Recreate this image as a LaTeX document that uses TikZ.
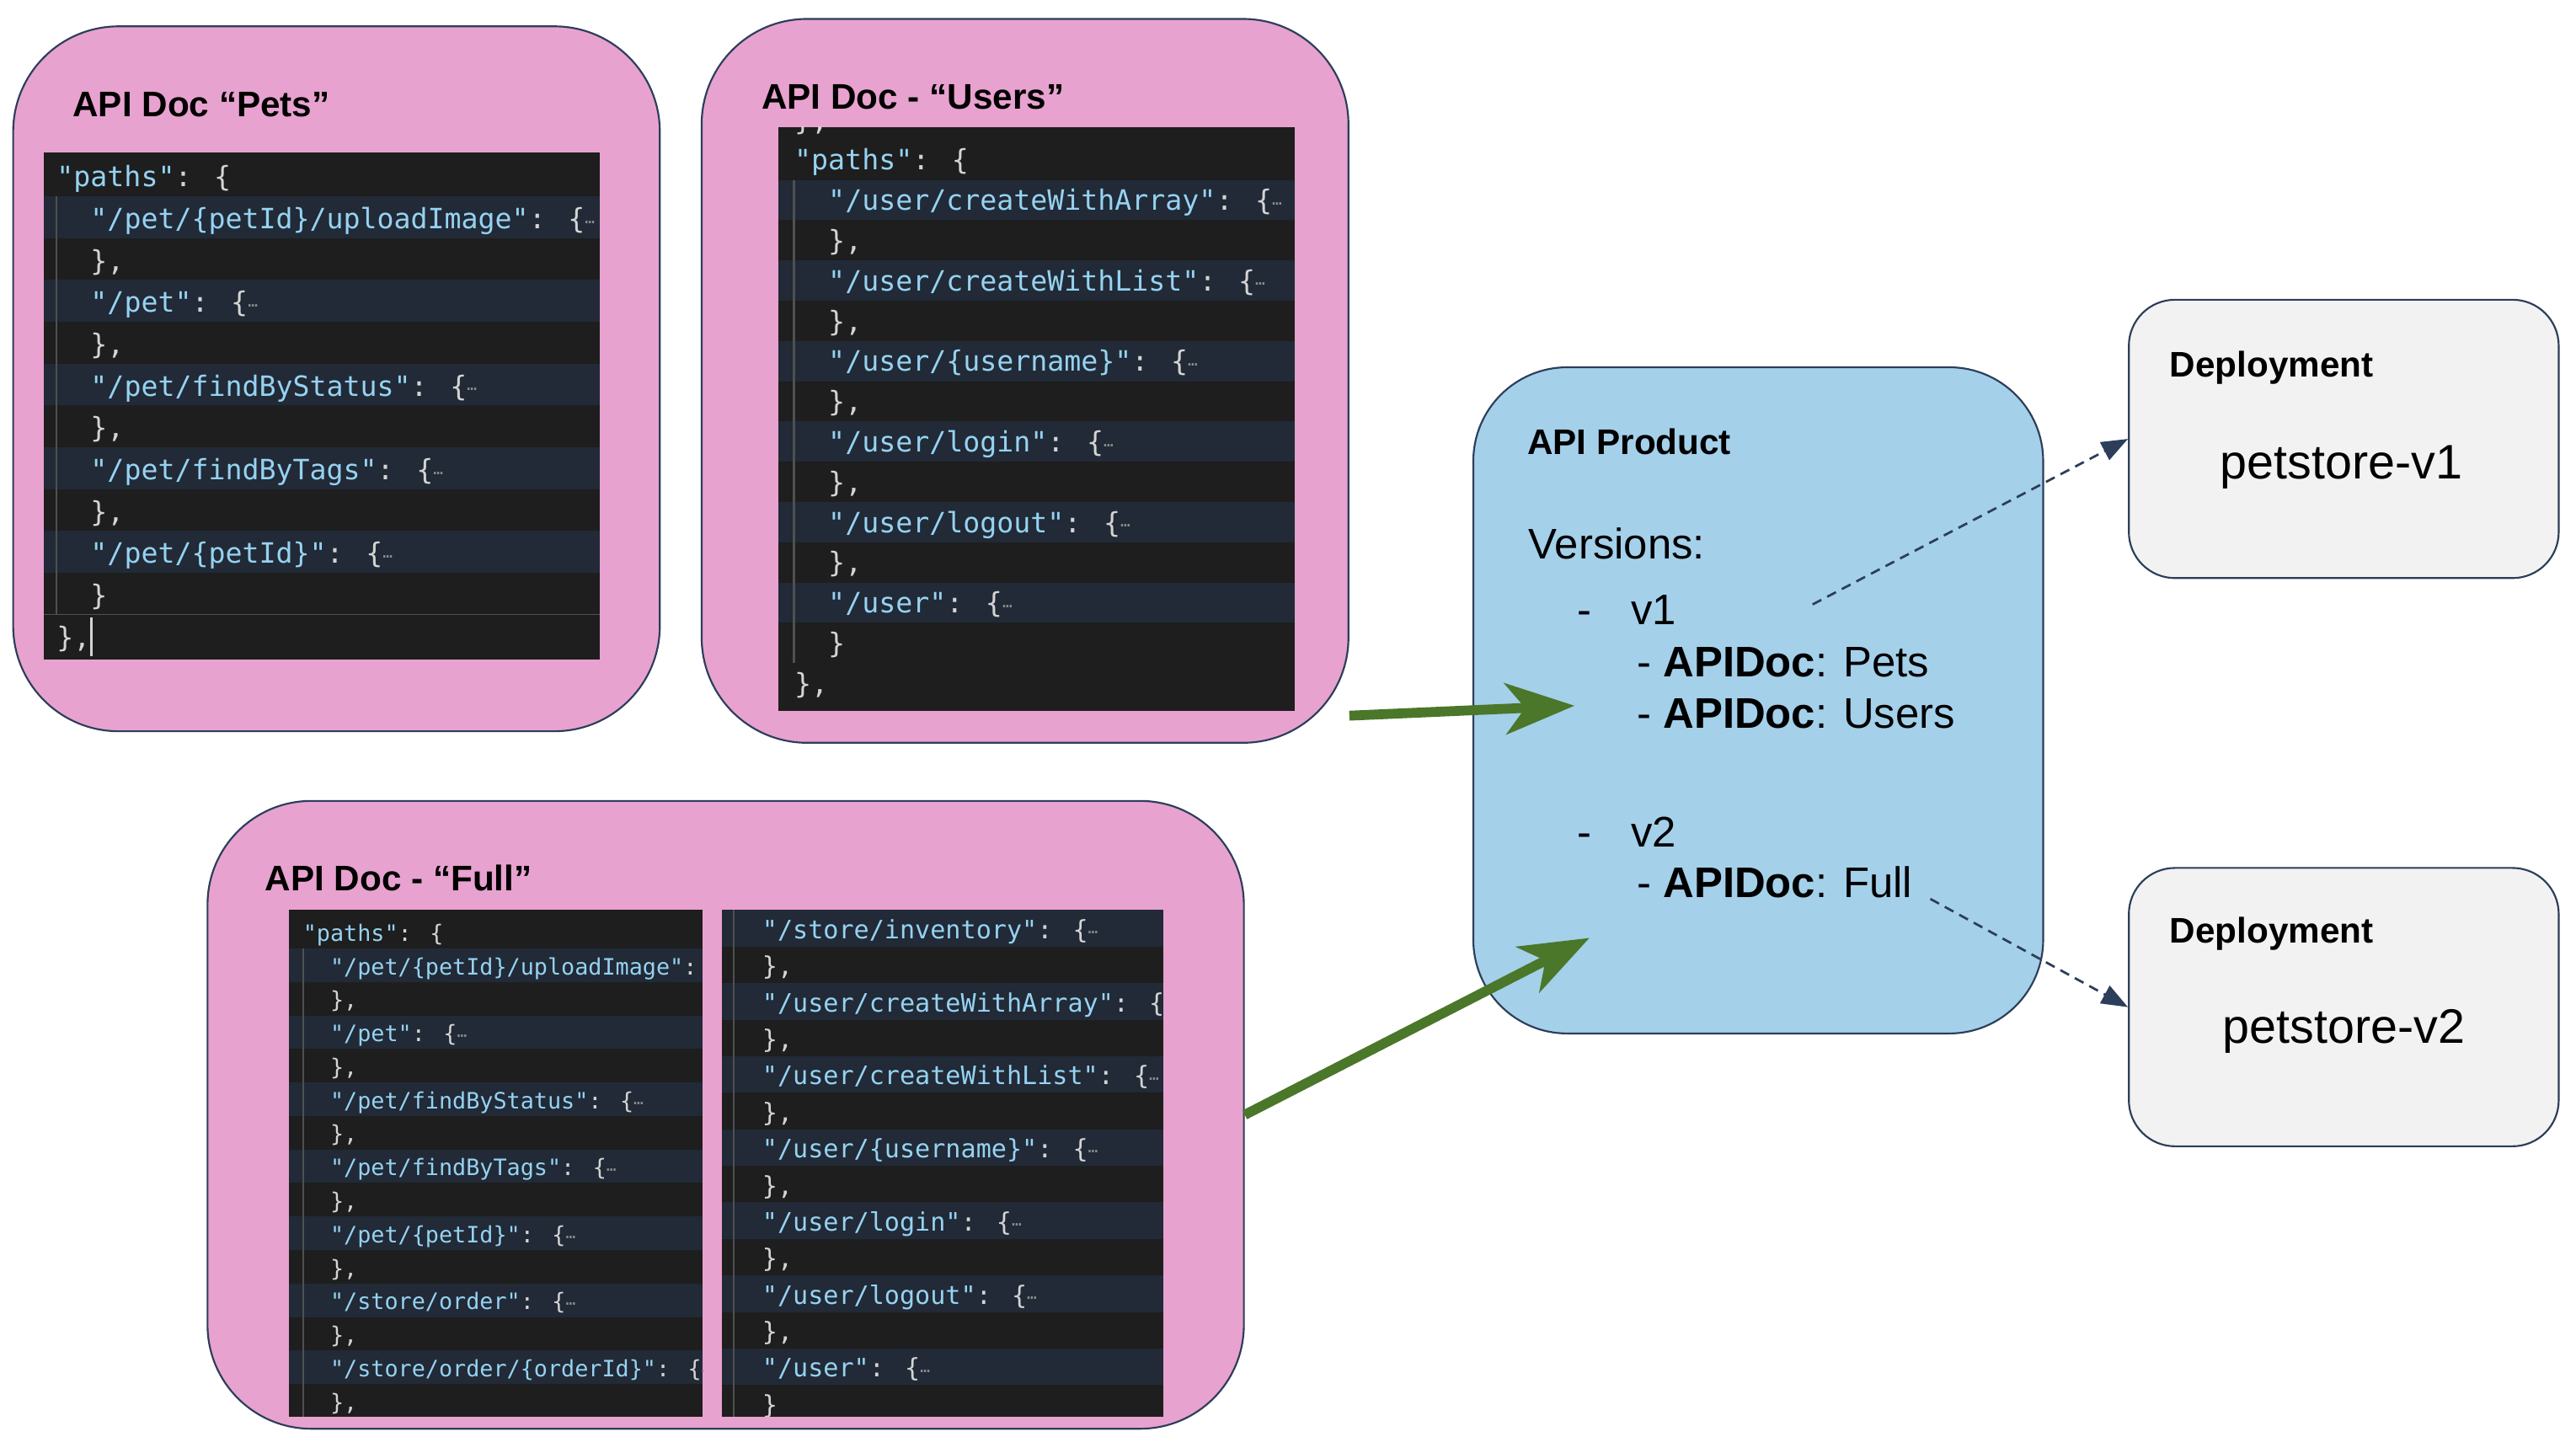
\documentclass[tikz,border=0pt]{standalone}
\usepackage{fontspec}
\setmainfont{Liberation Sans}
\newfontfamily\codefont{DejaVu Sans Mono}
\usetikzlibrary{arrows.meta,calc,fit}

\definecolor{docpink}{RGB}{232,162,207}
\definecolor{prodblue}{RGB}{164,208,234}
\definecolor{depgray}{RGB}{242,242,242}
\definecolor{navy}{RGB}{44,62,90}
\definecolor{feedgreen}{RGB}{74,119,41}
\definecolor{codebg}{RGB}{30,30,30}
\definecolor{codehl}{RGB}{33,42,54}
\definecolor{codestr}{RGB}{150,210,242}
\definecolor{codepun}{RGB}{212,212,212}
\definecolor{codefold}{RGB}{140,140,140}
\definecolor{codeguide}{RGB}{80,80,80}

\newcommand\jstr[1]{\textcolor{codestr}{#1}}
\newcommand\jind{\phantom{xx}}
\newcommand\jfold{\raisebox{0.35ex}{\tiny\textcolor{codefold}{…}}}

\tikzset{
	docbox/.style={draw=navy, line width=0.55pt, fill=docpink, inner sep=0pt, rounded corners=32pt},
	prodbox/.style={draw=navy, line width=0.55pt, fill=prodblue, inner sep=0pt, rounded corners=28.5pt},
	depbox/.style={draw=navy, line width=0.55pt, fill=depgray, inner sep=0pt, rounded corners=14pt},
	boxhead/.style={anchor=base west, inner sep=0pt, font=\bfseries\fontsize{10.8pt}{13pt}\selectfont},
	boxtext/.style={anchor=base west, inner sep=0pt, font=\fontsize{13pt}{15pt}\selectfont},
	depname/.style={anchor=base, inner sep=0pt, font=\fontsize{14.7pt}{17pt}\selectfont},
	codeline/.style={anchor=base west, inner sep=0pt, text=codepun},
	petcode/.style={codeline, font=\codefont\fontsize{8.5pt}{10pt}\selectfont},
	fullcodel/.style={codeline, font=\codefont\fontsize{6.85pt}{8pt}\selectfont},
	fullcoder/.style={codeline, font=\codefont\fontsize{7.7pt}{9pt}\selectfont},
	feed/.style={draw=feedgreen, line width=3pt, -{Stealth[length=21pt,width=15.5pt,inset=6pt]}},
	deploy/.style={draw=navy, line width=0.7pt, dash pattern=on 3pt off 2pt, -{Triangle[length=8pt,width=6pt]}}
}

\begin{document}
\begin{tikzpicture}[x=0.5pt, y=-0.5pt]
			%%%%% START %%%%%
			\fill[white] (0,0) rectangle (1564,872.5);
			\useasboundingbox (0,0) rectangle (1564,872.5);
			
			\node[docbox, fit={(8,16) (400.6,444)}] (pets) {};
			\node[docbox, fit={(426,11.5) (818.7,451)}] (users) {};
			\node[docbox, rounded corners=31.5pt, fit={(126,486.3) (755.2,867.5)}] (full) {};
			\node[prodbox, fit={(894.5,223) (1240.5,627.5)}] (product) {};
			\node[depbox, fit={(1292.5,182) (1553.5,351)}] (dep1) {};
			\node[depbox, fit={(1292.5,527) (1553.5,696)}] (dep2) {};
			
			\node[boxhead] (pets-title) at (43.8,71) {API Doc “Pets”};
			\node[boxhead] (users-title) at (462,66) {API Doc - “Users”};
			\node[boxhead] (full-title) at (160.6,540.8) {API Doc - “Full”};
			
			% Pets code
			\fill[codebg] (26.6,92.6) rectangle (364,400.3);
			\foreach \r in {1,3,5,7,9}
				\fill[codehl] (26.6,93.8+25.4*\r) rectangle (364,119.2+25.4*\r);
			\draw[codeguide, line width=0.6pt] (34.1,119.2) -- (34.1,373.2);
			\draw[codeguide, line width=0.4pt] (26.6,373.2) -- (364,373.2);
			\begin{scope}
				\clip (26.6,92.6) rectangle (364,400.3);
				\foreach \t [count=\r from 0] in {
					{\jstr{"paths"}: \{},
					{\jind\jstr{"/pet/\{petId\}/uploadImage"}: \{\jfold},
					{\jind\},},
					{\jind\jstr{"/pet"}: \{\jfold},
					{\jind\},},
					{\jind\jstr{"/pet/findByStatus"}: \{\jfold},
					{\jind\},},
					{\jind\jstr{"/pet/findByTags"}: \{\jfold},
					{\jind\},},
					{\jind\jstr{"/pet/\{petId\}"}: \{\jfold},
					{\jind\}},
					{\},}}
					\node[petcode] (pets-l\r) at (34.1,113.4+25.4*\r) {\t};
			\end{scope}
			\draw[codepun, line width=0.8pt] (55.6,375) -- (55.6,398.5);
			
			% Users code
			\fill[codebg] (472.4,77) rectangle (786,431.8);
			\foreach \r in {2,4,...,12}
				\fill[codehl] (472.4,60.3+24.45*\r) rectangle (786,84.75+24.45*\r);
			\draw[codeguide, line width=0.6pt] (482,109.2) -- (482,402.6);
			\begin{scope}
				\clip (472.4,77) rectangle (786,431.8);
				\foreach \t [count=\r from 0] in {
					{\smash{\},}},
					{\jstr{"paths"}: \{},
					{\jind\jstr{"/user/createWithArray"}: \{\jfold},
					{\jind\},},
					{\jind\jstr{"/user/createWithList"}: \{\jfold},
					{\jind\},},
					{\jind\jstr{"/user/\{username\}"}: \{\jfold},
					{\jind\},},
					{\jind\jstr{"/user/login"}: \{\jfold},
					{\jind\},},
					{\jind\jstr{"/user/logout"}: \{\jfold},
					{\jind\},},
					{\jind\jstr{"/user"}: \{\jfold},
					{\jind\}},
					{\},}}
					\node[petcode] (users-l\r) at (482,78.8+24.45*\r) {\t};
			\end{scope}
			
			% Full code, left column
			\fill[codebg] (175.3,552.6) rectangle (426.6,860);
			\foreach \r in {1,3,...,13}
				\fill[codehl] (175.3,555.5+20.35*\r) rectangle (426.6,575.85+20.35*\r);
			\draw[codeguide, line width=0.6pt] (184,575.8) -- (184,860);
			\begin{scope}
				\clip (175.3,552.6) rectangle (426.6,860);
				\foreach \t [count=\r from 0] in {
					{\jstr{"paths"}: \{},
					{\jind\jstr{"/pet/\{petId\}/uploadImage"}: \{\jfold},
					{\jind\},},
					{\jind\jstr{"/pet"}: \{\jfold},
					{\jind\},},
					{\jind\jstr{"/pet/findByStatus"}: \{\jfold},
					{\jind\},},
					{\jind\jstr{"/pet/findByTags"}: \{\jfold},
					{\jind\},},
					{\jind\jstr{"/pet/\{petId\}"}: \{\jfold},
					{\jind\},},
					{\jind\jstr{"/store/order"}: \{\jfold},
					{\jind\},},
					{\jind\jstr{"/store/order/\{orderId\}"}: \{\jfold},
					{\jind\},}}
					\node[fullcodel] (full-l\r) at (183.6,571.4+20.35*\r) {\t};
			\end{scope}
			
			% Full code, right column
			\fill[codebg] (438.3,552.6) rectangle (706.4,860);
			\foreach \r in {0,2,...,12}
				\fill[codehl] (438.3,552.6+22.18*\r) rectangle (706.4,574.78+22.18*\r);
			\draw[codeguide, line width=0.6pt] (445.4,552.6) -- (445.4,860);
			\begin{scope}
				\clip (438.3,552.6) rectangle (706.4,860);
				\foreach \t [count=\r from 0] in {
					{\jind\jstr{"/store/inventory"}: \{\jfold},
					{\jind\},},
					{\jind\jstr{"/user/createWithArray"}: \{\jfold},
					{\jind\},},
					{\jind\jstr{"/user/createWithList"}: \{\jfold},
					{\jind\},},
					{\jind\jstr{"/user/\{username\}"}: \{\jfold},
					{\jind\},},
					{\jind\jstr{"/user/login"}: \{\jfold},
					{\jind\},},
					{\jind\jstr{"/user/logout"}: \{\jfold},
					{\jind\},},
					{\jind\jstr{"/user"}: \{\jfold},
					{\jind\}}}
					\node[fullcoder] (full-r\r) at (443.9,570+22.18*\r) {\t};
			\end{scope}
			
			% API product
			\node[boxhead] (prod-title) at (927,276) {API Product};
			\node[boxtext] (prod-versions) at (927.8,339.5) {Versions:};
			\node[boxtext] (prod-v1) at (957.5,379) {\makebox[16.25pt][l]{-}v1};
			\node[boxtext] (prod-pets) at (993.5,410.8) {- \textbf{APIDoc}: Pets};
			\node[boxtext] (prod-users) at (993.5,442) {- \textbf{APIDoc}: Users};
			\node[boxtext] (prod-v2) at (957.5,514.4) {\makebox[16.25pt][l]{-}v2};
			\node[boxtext] (prod-full) at (993.5,545.1) {- \textbf{APIDoc}: Full};
			
			% deployments
			\node[boxhead] (dep1-title) at (1317,228.7) {Deployment};
			\node[depname] (dep1-name) at (1421.5,290.6) {petstore-v1};
			\node[boxhead] (dep2-title) at (1317,572.4) {Deployment};
			\node[depname] (dep2-name) at (1423,633.4) {petstore-v2};
			
			% connectors
			\coordinate (v1in) at (956,428.5);
			\coordinate (v2in) at (965,569.5);
			\coordinate (v1out) at (1100.5,367);
			\coordinate (v2out) at (1172,545.8);
			\draw[feed] ($(users.south east)+(0,-17)$) -- (v1in);
			\draw[feed] (full.east) -- (v2in);
			\draw[deploy] (v1out) -- (dep1.west);
			\draw[deploy] (v2out) -- (dep2.west);
			%%%%% END %%%%%
\end{tikzpicture}
\end{document}
